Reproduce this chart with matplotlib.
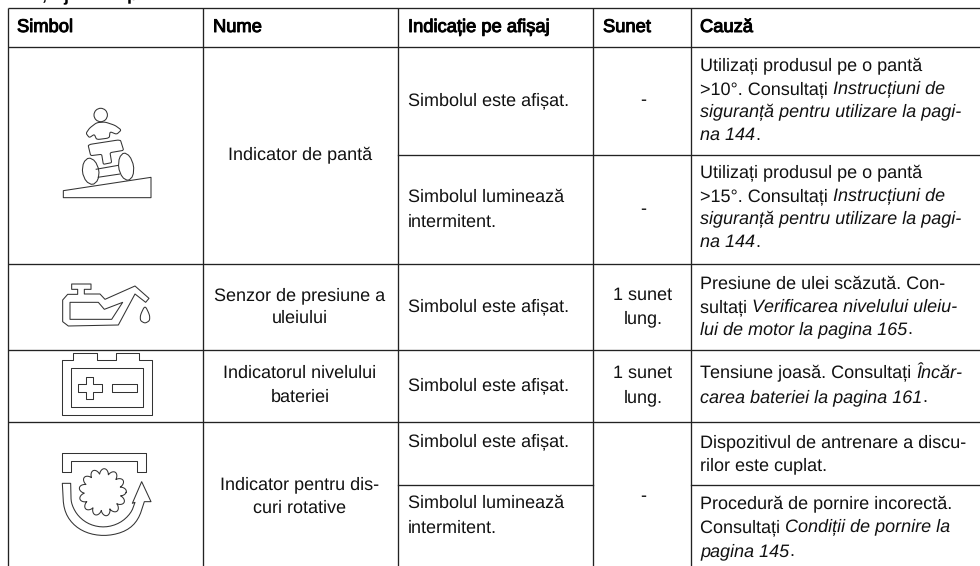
import numpy as np
import matplotlib
matplotlib.use("Agg")
import matplotlib.pyplot as plt
import matplotlib.patheffects as pe
from matplotlib.patches import Polygon, Circle

plt.rcParams['font.family'] = ['Liberation Sans', 'DejaVu Sans']
plt.rcParams['text.hinting'] = 'none'
plt.rcParams['text.hinting_factor'] = 1

##table content
headers = ['Simbol', 'Nume', 'Indicație pe afișaj', 'Sunet', 'Cauză']
names = ['Indicator de pantă', 'Senzor de presiune a', 'uleiului',
         'Indicatorul nivelului', 'bateriei', 'Indicator pentru dis-', 'curi rotative']
displays = ['Simbolul este afișat.', 'Simbolul luminează', 'intermitent.',
            'Simbolul este afișat.', 'Simbolul este afișat.',
            'Simbolul este afișat.', 'Simbolul luminează', 'intermitent.']
sounds = ['-', '-', '1 sunet', 'lung.', '1 sunet', 'lung.', '-']
# each line is a list of (text, italic)
causes = [
    [('Utilizați produsul pe o pantă', False)],
    [('>10°. Consultați ', False), ('Instrucțiuni de', True)],
    [('siguranță pentru utilizare la pagi-', True)],
    [('na 144', True), ('.', False)],
    [('Utilizați produsul pe o pantă', False)],
    [('>15°. Consultați ', False), ('Instrucțiuni de', True)],
    [('siguranță pentru utilizare la pagi-', True)],
    [('na 144', True), ('.', False)],
    [('Presiune de ulei scăzută. Con-', False)],
    [('sultați ', False), ('Verificarea nivelului uleiu-', True)],
    [('lui de motor la pagina 165', True), ('.', False)],
    [('Tensiune joasă. Consultați ', False), ('Încăr-', True)],
    [('carea bateriei la pagina 161', True), ('.', False)],
    [('Dispozitivul de antrenare a discu-', False)],
    [('rilor este cuplat.', False)],
    [('Procedură de pornire incorectă.', False)],
    [('Consultați ', False), ('Condiții de pornire la', True)],
    [('pagina 145', True), ('.', False)],
]

##layout in pixels
col_x = [8, 203, 398, 593, 691]
header_x = [17, 213, 408, 603, 700]
name_cx = 300
sound_cx = 643
cause_x = 700
name_y = [160, 300, 323, 378, 402, 489, 513]
display_y = [105, 202, 227, 311, 390, 446, 508, 533]
sound_y = [105, 214, 300, 323, 378, 402, 501]
cause_y = [71, 94, 117, 140, 178, 201, 224, 247, 289, 312, 334, 378, 402, 447, 470, 509, 532, 556]
fs = 13.3
ink = '#222222'

fig = plt.figure()
fig.set_size_inches(9.8, 5.66)
ax = fig.add_axes([0, 0, 1, 1])
ax.set_xlim(0, 980)
ax.set_ylim(566, 0)
ax.axis('off')

##grid lines
for x in col_x:
    ax.plot([x, x], [8, 566], color=ink, lw=0.95, solid_capstyle='butt')
for y in [8, 47, 264, 350, 422]:
    ax.plot([8, 980], [y, y], color=ink, lw=0.95, solid_capstyle='butt')
ax.plot([398, 980], [155, 155], color=ink, lw=0.95)
ax.plot([398, 593], [485, 485], color=ink, lw=0.95)
ax.plot([691, 980], [485, 485], color=ink, lw=0.95)

##headers are the regular face with a thin stroke, same widths as the reference
fake_bold = [pe.withStroke(linewidth=0.7, foreground='k')]

##clipped heading above the table, only the descenders show
for ch, x in [(',', 42), ('j', 63), ('p', 127)]:
    ax.text(x, 0.5, ch, fontsize=fs, fontweight='bold', color='k', va='baseline')

##text
for t, x in zip(headers, header_x):
    ax.text(x, 32, t, fontsize=13.2, color='k', va='baseline', path_effects=fake_bold)
for t, y in zip(names, name_y):
    ax.text(name_cx, y, t, fontsize=fs, color='#111111', ha='center', va='baseline')
for t, y in zip(displays, display_y):
    ax.text(408, y, t, fontsize=fs, color='#111111', va='baseline')
for t, y in zip(sounds, sound_y):
    ax.text(sound_cx, y, t, fontsize=fs, color='#111111', ha='center', va='baseline')

fig.canvas.draw()
rend = fig.canvas.get_renderer()
for line, y in zip(causes, cause_y):
    x = cause_x
    for t, ital in line:
        txt = ax.text(x, y, t, fontsize=fs, color='#111111', va='baseline',
                      style='italic' if ital else 'normal')
        x = x + txt.get_window_extent(rend).width


##icons, traced in 3x crop coordinates
def smooth(pts, n=2, closed=True, cut=0.25):
    p = np.array(pts, float)
    for i in range(n):
        q = np.roll(p, -1, axis=0) if closed else p[1:]
        a = p if closed else p[:-1]
        p = np.column_stack([(1 - cut) * a + cut * q, cut * a + (1 - cut) * q]).reshape(-1, 2)
    return p


def shape(pts, ox, oy, closed=True):
    p = np.array(pts, float) / 3 + [ox, oy]
    ax.add_patch(Polygon(p, closed=closed, fill=False, ec='#333333', lw=0.75, joinstyle='round'))


# slope indicator
ax.add_patch(Circle((100.7, 115), 6.7, fill=False, ec='#333333', lw=0.75))
shape(smooth([(125, 68), (104, 84), (93, 100), (103, 113), (118, 103), (125, 119), (163, 114),
              (165, 95), (185, 103), (199, 90), (180, 76), (150, 66)], 2, cut=0.15), 55, 100)
shape(smooth([(99, 134), (196, 119), (206, 151), (165, 158), (170, 188), (145, 193), (140, 163), (107, 167)],
             2, cut=0.08), 55, 100)
shape(smooth([(78, 178), (125, 172), (137, 250), (88, 255)], 2, cut=0.3), 55, 100)
shape(smooth([(186, 163), (228, 157), (242, 237), (197, 243)], 2, cut=0.3), 55, 100)
shape([(122, 208), (190, 196)], 55, 100, closed=False)
shape([(128, 232), (195, 222)], 55, 100, closed=False)
shape([(25, 272), (288, 232), (288, 293), (25, 293)], 55, 100)

# oil can
shape([(50, 42), (108, 42), (108, 58), (88, 58), (88, 72), (135, 72), (150, 88), (240, 48), (282, 85),
       (272, 97), (240, 72), (190, 165), (40, 168), (23, 155), (23, 90), (38, 73), (68, 73), (68, 58),
       (50, 58)], 55, 270)
shape([(45, 97), (130, 97), (148, 118), (203, 97), (170, 148), (45, 148)], 55, 270)
shape(smooth([(270, 106), (256, 135), (256, 152), (270, 160), (284, 152), (284, 135)], 2, cut=0.2), 55, 270)

# battery
shape([(22, 270), (55, 270), (55, 248), (127, 248), (127, 270), (182, 270), (182, 248), (253, 248),
       (253, 270), (290, 270), (290, 435), (22, 435)], 55, 270)
shape([(47, 295), (265, 295), (265, 410), (47, 410)], 55, 270)
shape([(92, 320), (115, 320), (115, 342), (140, 342), (140, 365), (115, 365), (115, 387), (92, 387),
       (92, 365), (70, 365), (70, 342), (92, 342)], 55, 270)
shape([(172, 342), (245, 342), (245, 365), (172, 365)], 55, 270)

# rotating discs
shape([(22, 25), (272, 25), (272, 82), (247, 82), (247, 48), (47, 48), (47, 82), (22, 82)], 55, 445)
outer = smooth([(22, 150), (30, 205), (60, 245), (105, 268), (160, 273), (215, 258), (250, 225), (268, 170)], 2, closed=False)
inner = smooth([(240, 172), (228, 205), (195, 235), (150, 248), (105, 240), (70, 215), (50, 180), (47, 150)], 2, closed=False)
shape([(22, 115)] + outer.tolist() + [(268, 170), (288, 170), (260, 110), (232, 175), (240, 172)]
      + inner.tolist() + [(47, 115)], 55, 445)
th = np.linspace(0, 2 * np.pi, 520)
r = 54 + 17 * np.abs(np.cos(6.5 * th + 0.3)) ** 0.7
shape(np.column_stack([143 + r * np.cos(th), 142 + r * np.sin(th)]), 55, 445)

fig.savefig('out.png', dpi=100)
